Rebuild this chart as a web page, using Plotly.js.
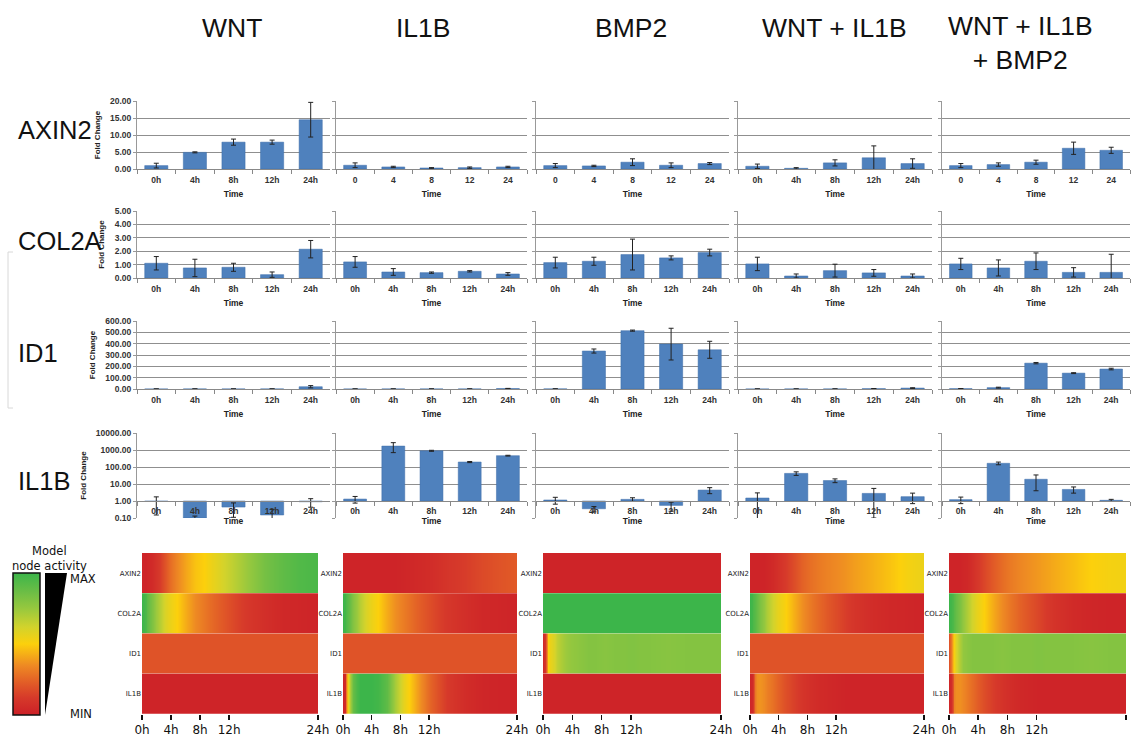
<!DOCTYPE html>
<html><head><meta charset="utf-8">
<script src="https://cdn.plot.ly/plotly-3.0.1.min.js"></script>
<style>html,body{margin:0;padding:0;background:#fff}#chart{width:1135px;height:738px}</style>
</head><body><div id="chart"></div>
<script>
// ---------- DATA ----------
const conditions = ["WNT", "IL1B", "BMP2", "WNT + IL1B", "WNT + IL1B<br>+ BMP2"];
const genes = ["AXIN2", "COL2A", "ID1", "IL1B"];
const timeLabelsH = ["0h", "4h", "8h", "12h", "24h"];
const timeLabelsN = ["0", "4", "8", "12", "24"];

// AXIN2 fold change (mean, error)
const axin2_wnt = [1.0, 4.9, 7.9, 7.9, 14.5];      const axin2_wnt_err = [0.7, 0.15, 0.9, 0.6, 5.1];
const axin2_il1b = [1.1, 0.6, 0.3, 0.4, 0.6];      const axin2_il1b_err = [0.7, 0.2, 0.1, 0.2, 0.2];
const axin2_bmp2 = [1.0, 0.9, 2.0, 1.1, 1.6];      const axin2_bmp2_err = [0.6, 0.2, 1.0, 0.7, 0.3];
const axin2_combo = [0.8, 0.2, 1.8, 3.3, 1.6];     const axin2_combo_err = [0.65, 0.2, 0.9, 3.5, 1.4];
const axin2_triple = [1.0, 1.3, 2.0, 6.1, 5.5];    const axin2_triple_err = [0.6, 0.5, 0.6, 1.8, 0.9];
// COL2A
const col2a_wnt = [1.1, 0.75, 0.8, 0.25, 2.15];    const col2a_wnt_err = [0.5, 0.65, 0.3, 0.2, 0.65];
const col2a_il1b = [1.2, 0.45, 0.4, 0.5, 0.3];     const col2a_il1b_err = [0.4, 0.25, 0.05, 0.05, 0.1];
const col2a_bmp2 = [1.15, 1.25, 1.75, 1.5, 1.9];   const col2a_bmp2_err = [0.4, 0.3, 1.15, 0.15, 0.25];
const col2a_combo = [1.05, 0.15, 0.55, 0.38, 0.15]; const col2a_combo_err = [0.5, 0.15, 0.48, 0.25, 0.15];
const col2a_triple = [1.05, 0.75, 1.25, 0.42, 0.42]; const col2a_triple_err = [0.42, 0.6, 0.62, 0.35, 1.35];
// ID1
const id1_wnt = [0.3, 0.5, 0.4, 0.6, 20];          const id1_wnt_err = [0.2, 0.2, 0.2, 0.3, 10];
const id1_il1b = [0.3, 0.4, 0.5, 0.6, 4];          const id1_il1b_err = [0.1, 0.1, 0.1, 0.2, 1.5];
const id1_bmp2 = [1, 335, 515, 396, 346];          const id1_bmp2_err = [0.5, 18, 5, 140, 75];
const id1_combo = [0.3, 0.4, 0.5, 3, 8];           const id1_combo_err = [0.1, 0.1, 0.2, 1, 3];
const id1_triple = [3, 12, 228, 140, 176];         const id1_triple_err = [1, 4, 6, 4, 7];
// IL1B (log scale)
const il1b_wnt = [0.95, 0.1, 0.44, 0.15, 0.9];     const il1b_wnt_err = [0.8, 0.03, 0.33, 0.17, 0.47];
const il1b_il1b = [1.3, 1700, 900, 196, 465];      const il1b_il1b_err = [0.55, 1000, 60, 15, 25];
const il1b_bmp2 = [1.15, 0.35, 1.25, 0.55, 4.4];   const il1b_bmp2_err = [0.5, 0.12, 0.3, 0.3, 1.7];
const il1b_combo = [1.5, 42, 16, 2.8, 1.8];        const il1b_combo_err = [1.5, 10, 4, 2.7, 1.1];
const il1b_triple = [1.2, 165, 19, 4.8, 1.1];      const il1b_triple_err = [0.5, 30, 15, 1.9, 0.15];

// Model node activity (0 = MIN, 1 = MAX), sampled along simulation axis (0..100 = 0h..24h)
const hmX = [0, 1, 2, 3, 4, 6, 8, 10, 13, 16, 20, 25, 30, 35, 40, 45, 50, 55, 60, 70, 80, 90, 100];
const hmTickText = ["0h", "4h", "8h", "12h", "24h"];
const hm_wnt_axin2 = [0.02,0.02,0.02,0.03,0.04,0.06,0.09,0.13,0.2,0.27,0.34,0.41,0.47,0.5,0.55,0.6,0.65,0.7,0.75,0.84,0.9,0.94,0.96];
const hm_wnt_col2a = [1.0,0.98,0.95,0.91,0.87,0.8,0.74,0.68,0.6,0.55,0.5,0.42,0.35,0.3,0.26,0.22,0.18,0.14,0.11,0.07,0.04,0.03,0.02];
const hm_wnt_id1 = [0.2,0.2,0.2,0.2,0.2,0.2,0.2,0.2,0.2,0.2,0.2,0.2,0.2,0.2,0.2,0.2,0.2,0.2,0.2,0.2,0.2,0.2,0.2];
const hm_wnt_il1b = [0.02,0.02,0.02,0.02,0.02,0.02,0.02,0.02,0.02,0.02,0.02,0.02,0.02,0.02,0.02,0.02,0.02,0.02,0.02,0.02,0.02,0.02,0.02];
const hm_il1b_axin2 = [0.02,0.02,0.02,0.02,0.02,0.02,0.02,0.02,0.02,0.02,0.02,0.02,0.02,0.03,0.04,0.05,0.06,0.08,0.1,0.13,0.17,0.2,0.22];
const hm_il1b_col2a = [1.0,0.98,0.95,0.91,0.87,0.8,0.74,0.68,0.6,0.55,0.5,0.42,0.36,0.31,0.26,0.22,0.18,0.14,0.11,0.07,0.04,0.03,0.02];
const hm_il1b_id1 = [0.2,0.2,0.2,0.2,0.2,0.2,0.2,0.2,0.2,0.2,0.2,0.2,0.2,0.2,0.2,0.2,0.2,0.2,0.2,0.2,0.2,0.2,0.2];
const hm_il1b_il1b = [0.02,0.05,0.3,0.55,0.7,0.88,0.96,1.0,1.0,1.0,0.98,0.9,0.72,0.56,0.45,0.35,0.25,0.18,0.12,0.06,0.03,0.02,0.02];
const hm_bmp2_axin2 = [0.02,0.02,0.02,0.02,0.02,0.02,0.02,0.02,0.02,0.02,0.02,0.02,0.02,0.02,0.02,0.02,0.02,0.02,0.02,0.02,0.02,0.02,0.02];
const hm_bmp2_col2a = [1.0,1.0,1.0,1.0,1.0,1.0,1.0,1.0,1.0,1.0,1.0,1.0,1.0,1.0,1.0,1.0,1.0,1.0,1.0,1.0,1.0,1.0,1.0];
const hm_bmp2_id1 = [0.05,0.1,0.35,0.5,0.55,0.6,0.66,0.7,0.74,0.76,0.78,0.8,0.8,0.79,0.8,0.8,0.81,0.8,0.8,0.79,0.8,0.8,0.8];
const hm_bmp2_il1b = [0.02,0.02,0.02,0.02,0.02,0.02,0.02,0.02,0.02,0.02,0.02,0.02,0.02,0.02,0.02,0.02,0.02,0.02,0.02,0.02,0.02,0.02,0.02];
const hm_combo_axin2 = [0.02,0.02,0.02,0.02,0.02,0.02,0.02,0.03,0.05,0.08,0.12,0.18,0.24,0.28,0.31,0.33,0.35,0.37,0.39,0.43,0.47,0.52,0.55];
const hm_combo_col2a = [1.0,0.98,0.95,0.92,0.88,0.82,0.76,0.7,0.62,0.56,0.51,0.43,0.36,0.3,0.25,0.21,0.17,0.13,0.1,0.06,0.04,0.03,0.02];
const hm_combo_id1 = [0.2,0.2,0.2,0.2,0.2,0.2,0.2,0.2,0.2,0.2,0.2,0.2,0.2,0.2,0.2,0.2,0.2,0.2,0.2,0.2,0.2,0.2,0.2];
const hm_combo_il1b = [0.03,0.05,0.1,0.3,0.36,0.37,0.35,0.32,0.28,0.24,0.19,0.14,0.1,0.07,0.05,0.04,0.03,0.02,0.02,0.02,0.02,0.02,0.02];
const hm_triple_axin2 = [0.02,0.02,0.02,0.02,0.02,0.02,0.03,0.04,0.07,0.11,0.16,0.22,0.27,0.31,0.34,0.36,0.38,0.4,0.42,0.46,0.5,0.52,0.53];
const hm_triple_col2a = [1.0,0.98,0.95,0.92,0.88,0.82,0.76,0.7,0.62,0.56,0.5,0.42,0.35,0.29,0.24,0.2,0.16,0.12,0.09,0.05,0.03,0.02,0.02];
const hm_triple_id1 = [0.2,0.3,0.45,0.52,0.6,0.7,0.76,0.78,0.8,0.8,0.8,0.8,0.79,0.8,0.8,0.8,0.81,0.8,0.8,0.8,0.79,0.8,0.8];
const hm_triple_il1b = [0.03,0.06,0.2,0.33,0.36,0.36,0.34,0.31,0.27,0.23,0.18,0.13,0.09,0.06,0.04,0.03,0.02,0.02,0.02,0.02,0.02,0.02,0.02];

// ---------- BUILD ----------
const W = 1135, H = 738;
const px2x = v => v / W, px2y = v => 1 - v / H;
const barVals = [
  [axin2_wnt, axin2_il1b, axin2_bmp2, axin2_combo, axin2_triple],
  [col2a_wnt, col2a_il1b, col2a_bmp2, col2a_combo, col2a_triple],
  [id1_wnt, id1_il1b, id1_bmp2, id1_combo, id1_triple],
  [il1b_wnt, il1b_il1b, il1b_bmp2, il1b_combo, il1b_triple]];
const barErrs = [
  [axin2_wnt_err, axin2_il1b_err, axin2_bmp2_err, axin2_combo_err, axin2_triple_err],
  [col2a_wnt_err, col2a_il1b_err, col2a_bmp2_err, col2a_combo_err, col2a_triple_err],
  [id1_wnt_err, id1_il1b_err, id1_bmp2_err, id1_combo_err, id1_triple_err],
  [il1b_wnt_err, il1b_il1b_err, il1b_bmp2_err, il1b_combo_err, il1b_triple_err]];
const hmRows = [
  [hm_wnt_axin2, hm_wnt_col2a, hm_wnt_id1, hm_wnt_il1b],
  [hm_il1b_axin2, hm_il1b_col2a, hm_il1b_id1, hm_il1b_il1b],
  [hm_bmp2_axin2, hm_bmp2_col2a, hm_bmp2_id1, hm_bmp2_il1b],
  [hm_combo_axin2, hm_combo_col2a, hm_combo_id1, hm_combo_il1b],
  [hm_triple_axin2, hm_triple_col2a, hm_triple_id1, hm_triple_il1b]];
const xLabelSets = [
  [timeLabelsH, timeLabelsN, timeLabelsN, timeLabelsH, timeLabelsN],
  [timeLabelsH, timeLabelsH, timeLabelsH, timeLabelsH, timeLabelsH],
  [timeLabelsH, timeLabelsH, timeLabelsH, timeLabelsH, timeLabelsH],
  [timeLabelsH, timeLabelsH, timeLabelsH, timeLabelsH, timeLabelsH]];

const rowsPx = [[101, 169], [211, 278], [321, 389], [433, 518]];
const colsPx = [[137, 330], [336, 527], [536, 729], [738, 932], [942, 1130]];
const rowRange = [[0, 20], [0, 5], [0, 600], [-1, 4]];
const rowDtick = [5, 1, 100, 1];
const hmColsPx = [[142, 318], [343, 517], [543, 721], [750, 924], [949, 1126]];
const hmRowPx = [553, 714];
const hmTickPos = [0, 16.5, 33, 49.5, 100];

const cs = [[0, '#cc2027'], [0.12, '#d6392a'], [0.22, '#e15a27'], [0.35, '#ee8a23'], [0.5, '#fcd00c'],
            [0.62, '#d2d32c'], [0.75, '#97c83e'], [0.86, '#6ebe45'], [1, '#3cb54a']];

const FONT = 'Liberation Sans, Arial, sans-serif';
const DV = 'DejaVu Sans, sans-serif';
const tickF = {family: FONT, size: 8.5, color: '#333', weight: 'bold'};

const layout = {width: W, height: H, margin: {l: 0, r: 0, t: 0, b: 0}, paper_bgcolor: '#fff',
  plot_bgcolor: 'rgba(0,0,0,0)', showlegend: false, font: {family: FONT}, annotations: [], shapes: []};
const traces = [];

for (let r = 0; r < 4; r++) {
  for (let c = 0; c < 5; c++) {
    const k = r * 5 + c + 1;
    const xid = 'x' + (k === 1 ? '' : k), yid = 'y' + (k === 1 ? '' : k);
    const xname = 'xaxis' + (k === 1 ? '' : k), yname = 'yaxis' + (k === 1 ? '' : k);
    const isLog = r === 3;
    const vals = barVals[r][c];
    const t = {type: 'bar', x: xLabelSets[r][c], y: isLog ? vals.map(v => v - 1) : vals,
      width: 0.6, marker: {color: '#4f81bd', line: {color: '#3d6ca8', width: 0.5}},
      error_y: {type: 'data', array: barErrs[r][c], visible: true, color: '#222', thickness: 1, width: 2.5},
      xaxis: xid, yaxis: yid, hoverinfo: 'skip'};
    if (isLog) t.base = 1;
    traces.push(t);
    const [t0, b0] = rowsPx[r];
    const yd = [px2y(b0), px2y(t0)];
    const xa = {domain: [px2x(colsPx[c][0]), px2x(colsPx[c][1])], type: 'category', tickson: 'boundaries',
      ticks: 'outside', ticklen: 4, tickcolor: '#888', showline: true, linecolor: '#888', linewidth: 1,
      ticklabelstandoff: 3,
      showgrid: false, zeroline: false, tickfont: tickF, fixedrange: true,
      title: {text: 'Time', font: {family: FONT, size: 8.5, color: '#222', weight: 'bold'}, standoff: 6}};
    if (isLog) { xa.anchor = 'free'; xa.position = yd[0] + (yd[1] - yd[0]) / 5; xa.ticklabelstandoff = 2; xa.title.standoff = 2; }
    else xa.anchor = yid;
    layout[xname] = xa;
    const ya = {domain: yd, anchor: xid, type: isLog ? 'log' : 'linear', range: rowRange[r], dtick: rowDtick[r],
      tickformat: '.2f', showgrid: true, gridcolor: '#8f8f8f', gridwidth: 1, zeroline: false,
      showline: true, linecolor: '#999', ticks: 'outside', ticklen: 3, tickcolor: '#999',
      showticklabels: c === 0, tickfont: tickF, fixedrange: true};
    if (c === 0) ya.title = {text: 'Fold Change', font: {family: FONT, size: 8, color: '#222', weight: 'bold'}, standoff: 8};
    layout[yname] = ya;
  }
}

for (let p = 0; p < 5; p++) {
  const k = 21 + p;
  const xid = 'x' + k, yid = 'y' + k;
  for (let g = 0; g < 4; g++) {
    const t = {type: 'heatmap', x: hmX, y: [3 - g], z: [hmRows[p][g]], zmin: 0, zmax: 1, colorscale: cs,
      zsmooth: 'best', xaxis: xid, yaxis: yid, hoverinfo: 'skip', showscale: false};
    if (p === 0 && g === 0) {
      t.showscale = true;
      t.colorbar = {x: px2x(13), xanchor: 'left', y: px2y(644), yanchor: 'middle', thicknessmode: 'pixels',
        thickness: 27, lenmode: 'pixels', len: 142, outlinewidth: 1.5, outlinecolor: '#111',
        showticklabels: false, ticks: '', xpad: 0, ypad: 0, borderwidth: 0};
    }
    traces.push(t);
  }
  layout['xaxis' + k] = {domain: [px2x(hmColsPx[p][0]), px2x(hmColsPx[p][1])], anchor: yid, range: [0, 100],
    tickvals: hmTickPos, ticktext: hmTickText, ticks: 'outside', ticklen: 5, tickwidth: 1.5, tickcolor: '#111',
    ticklabelstandoff: 0,
    showgrid: false, zeroline: false, showline: false, tickfont: {family: DV, size: 12, color: '#111'}, fixedrange: true};
  layout['yaxis' + k] = {domain: [px2y(hmRowPx[1]), px2y(hmRowPx[0])], anchor: xid, range: [-0.5, 3.5],
    tickvals: [3, 2, 1, 0], ticktext: genes, ticks: '', showgrid: false, zeroline: false, showline: false,
    tickfont: {family: DV, size: 7, color: '#222'}, fixedrange: true};
}

// Column titles
const colTitleX = [232, 423, 631, 834, 1020];
const colTitleY = [28, 28, 28, 28, 43];
conditions.forEach((t, i) => layout.annotations.push({text: t, x: px2x(colTitleX[i]), y: px2y(colTitleY[i]),
  xref: 'paper', yref: 'paper', xanchor: 'center', yanchor: 'middle', showarrow: false,
  font: {family: FONT, size: 26.5, color: '#111'}}));
// Row labels
const rowLabelY = [130, 241, 353, 481];
genes.forEach((t, i) => layout.annotations.push({text: t, x: px2x(16), y: px2y(rowLabelY[i]),
  xref: 'paper', yref: 'paper', xanchor: 'left', yanchor: 'middle', showarrow: false,
  font: {family: FONT, size: 25.5, color: '#111'}}));
// Legend texts
layout.annotations.push({text: 'Model<br>node activity', x: px2x(49), y: px2y(558), xref: 'paper', yref: 'paper',
  xanchor: 'center', yanchor: 'middle', showarrow: false, font: {family: DV, size: 11.5, color: '#111'}});
layout.annotations.push({text: 'MAX', x: px2x(68), y: px2y(579), xref: 'paper', yref: 'paper',
  xanchor: 'left', yanchor: 'middle', showarrow: false, font: {family: DV, size: 11.5, color: '#111'}});
layout.annotations.push({text: 'MIN', x: px2x(68), y: px2y(714), xref: 'paper', yref: 'paper',
  xanchor: 'left', yanchor: 'middle', showarrow: false, font: {family: DV, size: 11.5, color: '#111'}});
// Black wedge
layout.shapes.push({type: 'path', xref: 'paper', yref: 'paper',
  path: `M ${px2x(45)},${px2y(573)} L ${px2x(67)},${px2y(573)} L ${px2x(45)},${px2y(715)} Z`,
  fillcolor: '#000', line: {width: 0}});
// faint bracket at left
layout.shapes.push({type: 'path', xref: 'paper', yref: 'paper',
  path: `M ${px2x(13)},${px2y(252)} L ${px2x(8)},${px2y(252)} L ${px2x(8)},${px2y(408)} L ${px2x(13)},${px2y(408)}`,
  line: {color: '#d8d8d8', width: 1}});

Plotly.newPlot('chart', traces, layout, {staticPlot: true, displayModeBar: false});
</script>
</body></html>
